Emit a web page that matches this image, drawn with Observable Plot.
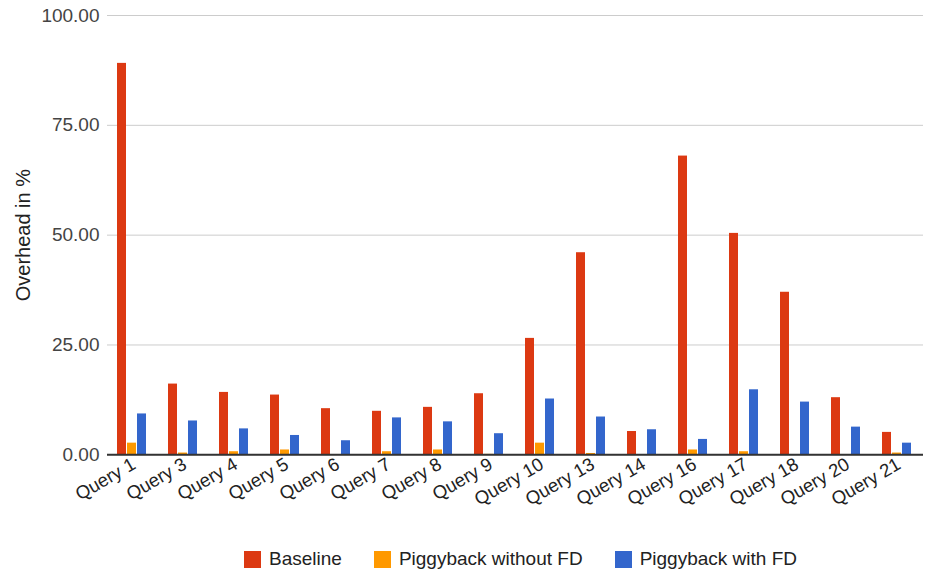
<!DOCTYPE html>
<html>
<head>
<meta charset="utf-8">
<script src="https://cdn.jsdelivr.net/npm/d3@7"></script>
<script src="https://cdn.jsdelivr.net/npm/@observablehq/plot@0.6"></script>
<style>
  html, body { margin: 0; padding: 0; background: #fff; }
  body { width: 925px; height: 573px; overflow: hidden; font-family: "Liberation Sans", Arial, sans-serif; }
  #legend { height: 28px; display: flex; align-items: center; padding-left: 244px; font-size: 19px; color: #222; }
  #legend .item { display: flex; align-items: center; margin-right: 32px; }
  #legend .sw { width: 17px; height: 17px; margin-right: 8px; }
  g[aria-label="y-axis label"] { font-size: 20px; }
</style>
</head>
<body>
<div id="chart"></div>
<div id="legend"></div>
<script>
const queries = ["Query 1","Query 3","Query 4","Query 5","Query 6","Query 7","Query 8","Query 9","Query 10","Query 13","Query 14","Query 16","Query 17","Query 18","Query 20","Query 21"];
const seriesNames = ["Baseline","Piggyback without FD","Piggyback with FD"];
const colors = ["#dc3912","#ff9900","#3366cc"];
const baseline        = [89.1, 16.1, 14.2, 13.6, 10.5, 9.9, 10.8, 13.9, 26.5, 46.0, 5.3, 68.0, 50.4, 37.0, 13.0, 5.1];
const piggyNoFD       = [2.65, 0.4, 0.7, 1.1, 0.0, 0.7, 1.1, 0.1, 2.65, 0.3, 0.0, 1.1, 0.7, 0.0, 0.0, 0.4];
const piggyFD         = [9.3, 7.7, 5.9, 4.4, 3.2, 8.4, 7.5, 4.8, 12.7, 8.6, 5.7, 3.5, 14.8, 12.0, 6.3, 2.65];
const yTicks = [0, 25, 50, 75, 100];

const seriesValues = [baseline, piggyNoFD, piggyFD];
const data = [];
queries.forEach((q, i) => {
  seriesNames.forEach((s, j) => data.push({query: q, series: s, value: seriesValues[j][i]}));
});

const font = "'Liberation Sans', Arial, sans-serif";
const chart = Plot.plot({
  width: 925,
  height: 545,
  marginLeft: 105,
  marginRight: 0,
  marginTop: 15,
  marginBottom: 90.7,
  style: {fontFamily: font, background: "#fff"},
  fx: {domain: queries, padding: 0, label: null},
  x: {domain: seriesNames, axis: null, paddingInner: 0.09, paddingOuter: 0.875},
  y: {domain: [0, 100], label: null},
  color: {domain: seriesNames, range: colors},
  marks: [
    Plot.gridY(yTicks, {stroke: "#cccccc", strokeOpacity: 1}),
    Plot.barY(data, {fx: "query", x: "series", y: "value", fill: "series", dx: -1}),
    Plot.ruleY([0], {stroke: "#333", strokeWidth: 2}),
    Plot.axisY(yTicks, {
      tickSize: 0, tickPadding: 8, tickFormat: d3.format(".2f"),
      fontSize: 19, fill: "#444",
      label: "Overhead in %", labelAnchor: "center", labelArrow: "none", labelOffset: 92
    }),
    Plot.axisFx({
      anchor: "bottom", tickSize: 0, tickRotate: -30, fontSize: 18.5, fill: "#222",
      label: null, tickPadding: 8, dx: 1
    })
  ]
});
document.getElementById("chart").appendChild(chart);
const yl = chart.querySelector('g[aria-label="y-axis label"]');
if (yl) yl.setAttribute("fill", "#222");

const legend = document.getElementById("legend");
seriesNames.forEach((s, j) => {
  const item = document.createElement("div");
  item.className = "item";
  const sw = document.createElement("div");
  sw.className = "sw";
  sw.style.background = colors[j];
  const t = document.createElement("span");
  t.textContent = s;
  item.appendChild(sw);
  item.appendChild(t);
  legend.appendChild(item);
});
</script>
</body>
</html>
